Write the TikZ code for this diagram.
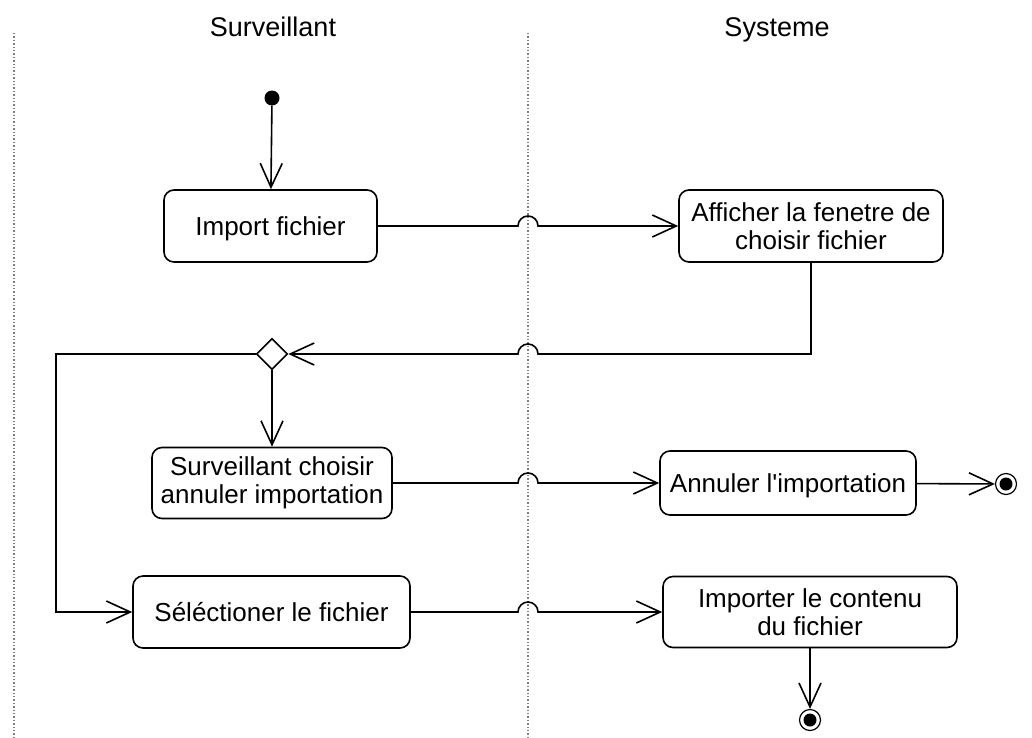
\documentclass[tikz,border=0pt]{standalone}
\usepackage{fontspec}
\setmainfont{Liberation Sans}[Ligatures=TeXOff]
\usetikzlibrary{arrows.meta, shapes.geometric}

\begin{document}
\begin{tikzpicture}[x=1pt, y=1pt,
    action/.style={draw, line width=1.6pt, rounded corners=10pt, align=center, inner sep=2pt, font=\fontsize{26}{28}\selectfont},
    oneline/.style={text depth=0pt},
    flow/.style={line width=1.6pt, -{Straight Barb[length=24pt, width=22pt]}},
    lane/.style={dotted, gray, line width=1.4pt},
    title/.style={font=\fontsize{27}{30}\selectfont, anchor=base},
    startstate/.style={circle, fill=black, minimum size=15pt, inner sep=0pt},
    endstate/.style={circle, draw, line width=1.2pt, fill=white, minimum size=21pt, inner sep=0pt,
        path picture={\fill[black] (path picture bounding box.center) circle (6.5pt);}},
    decision/.style={diamond, draw, line width=1.6pt, fill=white, minimum width=31pt, minimum height=31pt, inner sep=0pt}]
    \useasboundingbox (0,0) rectangle (1032,-737);

    % Define the swimlane separators
    \coordinate (leftlane) at (14,0);
    \coordinate (midlane) at (528,0);
    \draw[lane] (14,-33) -- (14,-737);
    \draw[lane] (528,-33) -- (528,-737);

    % Lane titles
    \node[title] (tsurv) at (273,-36) {Surveillant};
    \node[title] (tsys) at (777,-36) {Systeme};

    % Place the states and actions
    \node[startstate] (start) at (272,-98) {};
    \node[action, oneline, minimum width=213pt, minimum height=72pt] (imp) at (270.5,-226) {Import fichier};
    \node[action, minimum width=264pt, minimum height=72pt] (aff) at (811,-226) {Afficher la fenetre de\\choisir fichier};
    \node[decision] (dec) at (272,-354) {};
    \node[action, minimum width=240pt, minimum height=71pt] (cho) at (272,-483) {Surveillant choisir\\annuler importation};
    \node[action, oneline, minimum width=256pt, minimum height=64pt] (ann) at (788,-483) {Annuler l'importation};
    \node[endstate] (end1) at (1006,-484) {};
    \node[action, oneline, minimum width=277pt, minimum height=72pt] (sel) at (271.5,-612) {Séléctioner le fichier};
    \node[action, minimum width=294pt, minimum height=71pt] (impc) at (810,-612) {Importer le contenu\\du fichier};
    \node[endstate] (end2) at (810,-720) {};

    % Crossing points with the middle lane
    \coordinate (hop1) at (imp.east -| midlane);
    \coordinate (hop2) at (dec.east -| midlane);
    \coordinate (hop3) at (cho.east -| midlane);
    \coordinate (hop4) at (sel.east -| midlane);

    % Draw the transitions
    \draw[flow] (start) -- (imp);
    \draw[flow] (imp.east) -- ([xshift=-10pt]hop1) arc[start angle=180, end angle=0, radius=10pt] -- (aff.west);
    \draw[flow] (aff.south) |- ([xshift=10pt]hop2) arc[start angle=0, end angle=180, radius=10pt] -- (dec.east);
    \draw[flow] (dec.south) -- (cho.north);
    \draw[flow] (dec.west) -| ([xshift=-76pt]sel.west) -- (sel.west);
    \draw[flow] (cho.east) -- ([xshift=-10pt]hop3) arc[start angle=180, end angle=0, radius=10pt] -- (ann.west);
    \draw[flow] (ann) -- (end1);
    \draw[flow] (sel.east) -- ([xshift=-10pt]hop4) arc[start angle=180, end angle=0, radius=10pt] -- (impc.west);
    \draw[flow] (impc) -- (end2);
\end{tikzpicture}
\end{document}
